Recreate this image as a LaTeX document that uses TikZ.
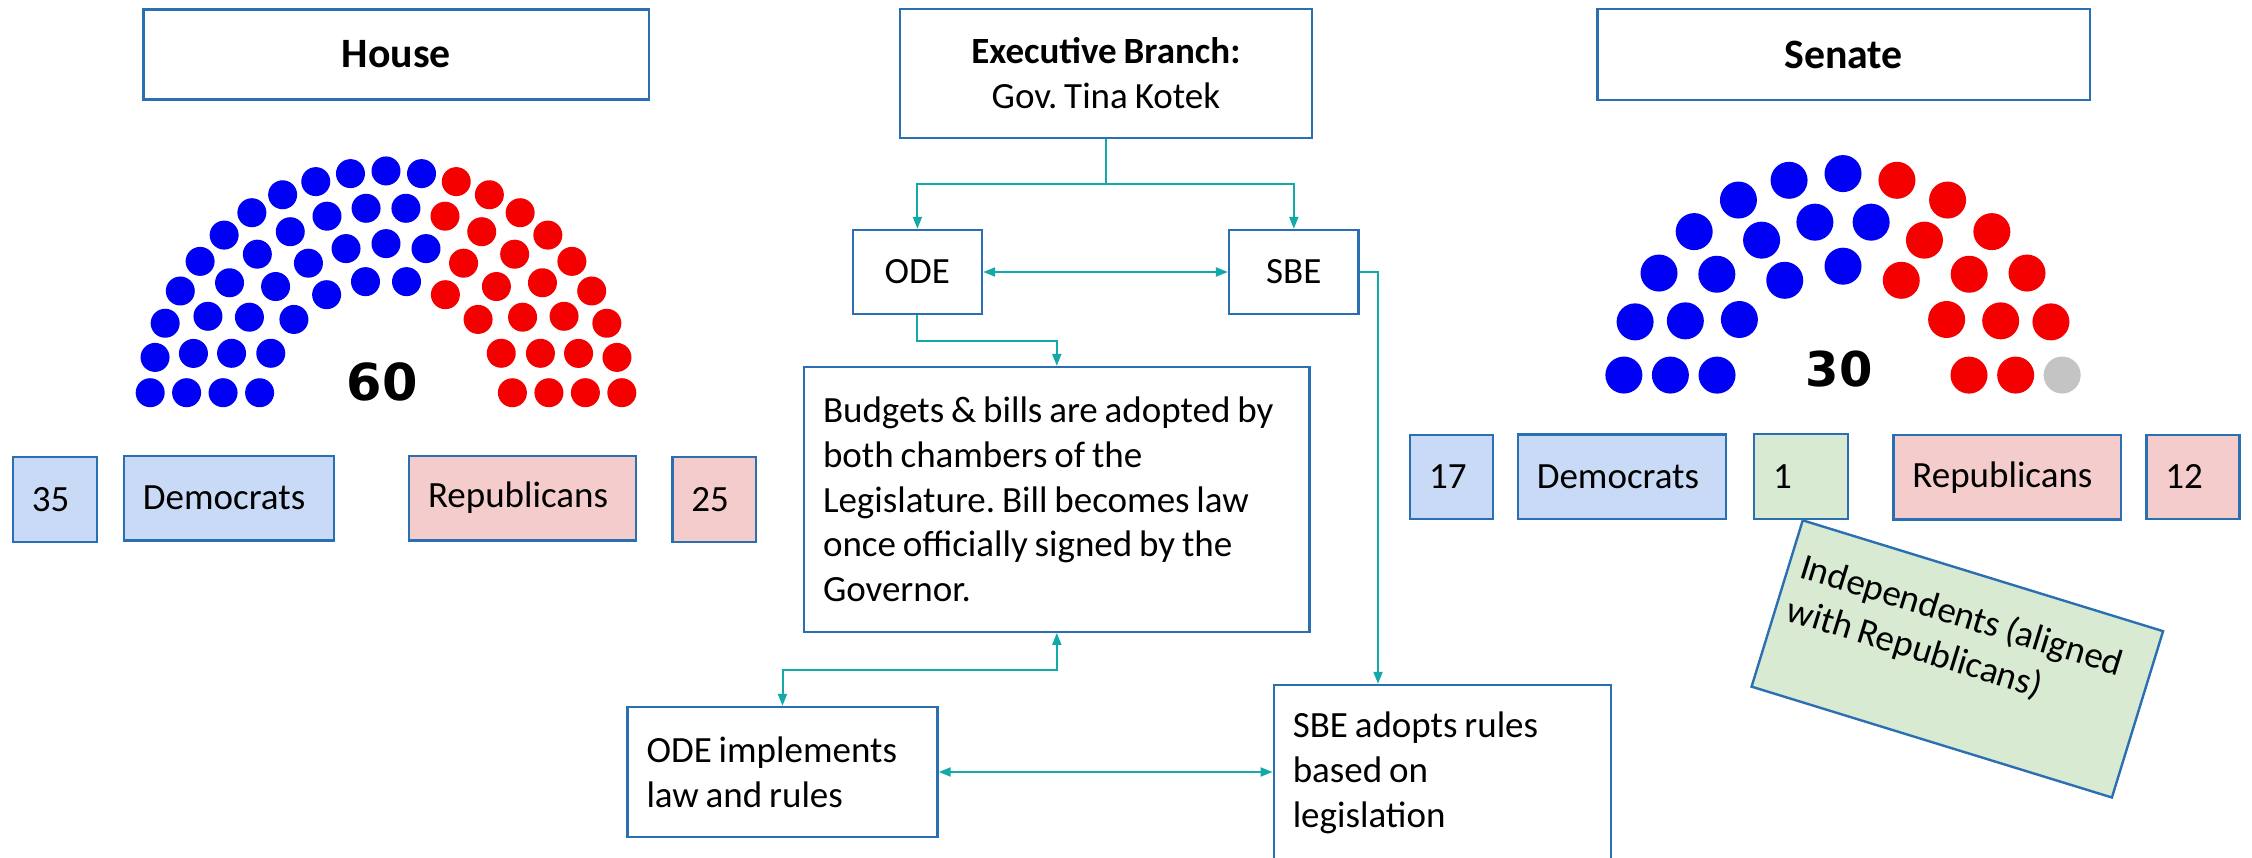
\documentclass[tikz,border=0pt]{standalone}
\usepackage{fontspec}
\setmainfont{Carlito}[WordSpace=0.82]
\newfontfamily\numfont{DejaVu Sans}
\usetikzlibrary{arrows.meta,calc}
\definecolor{bord}{HTML}{2A6FB2}
\definecolor{conncol}{HTML}{14A9A9}
\definecolor{fblue}{HTML}{C9DAF6}
\definecolor{fred}{HTML}{F4CCCC}
\definecolor{fgreen}{HTML}{D9EAD3}
\definecolor{dotblue}{HTML}{0000F5}
\definecolor{dotred}{HTML}{F50000}
\definecolor{dotgray}{HTML}{C4C4C4}
\frenchspacing
\begin{document}
\begin{tikzpicture}[x=0.5pt,y=-0.5pt,
  txt/.style={font=\fontsize{18.5}{22.4}\selectfont},
  box/.style={draw=bord,line width=1.2pt,fill=white,inner sep=0pt,txt},
  sz/.style 2 args={minimum width=#1*0.5pt,minimum height=#2*0.5pt},
  lbox/.style 2 args={box,align=flush left,inner xsep=9.5pt,text width=(#1-38)*0.5pt,minimum height=#2*0.5pt},
  cbox/.style 2 args={box,align=center,sz={#1}{#2}},
  titlebox/.style 2 args={cbox={#1}{#2},font=\fontsize{20.9}{25}\selectfont\bfseries},
  conn/.style={draw=conncol,line width=1pt,arrows={-Triangle[length=6pt,width=4.5pt]}},
  conn2/.style={draw=conncol,line width=1pt,arrows={Triangle[length=6pt,width=4.5pt]-Triangle[length=6pt,width=4.5pt]}},
  num/.style={font=\numfont\bfseries\fontsize{#1}{#1}\selectfont,anchor=base,inner sep=0pt}
]
\useasboundingbox (0,0) rectangle (2252,857);
\fill[white] (0,0) rectangle (2252,857);

% title boxes
\node[titlebox={505.5}{90}] (house) at (396.3,54.3) {House};
\node[titlebox={492.5}{91}] (senate) at (1843.7,54.5) {Senate};
\node[cbox={412.3}{129}] (exec) at (1105.9,73.5) {\textbf{Executive Branch:}\\Gov. Tina Kotek};

% executive flow
\node[cbox={129.2}{84}] (ode) at (917.4,272) {ODE};
\node[cbox={129.4}{84}] (sbe) at (1293.8,272) {SBE};
\node[lbox={505.6}{264.7}] (budget) at (1056.8,499.4) {Budgets \& bills are adopted by\\both chambers of the\\Legislature. Bill becomes law\\once officially signed by the\\Governor.};
\node[lbox={310}{130}] (odeimp) at (782.5,772) {ODE implements\\law and rules};
\node[lbox={337.3}{176}] (sbeadopt) at (1442.4,773) {SBE adopts rules\\based on\\legislation};

\coordinate (ej) at (1105.9,184);
\draw[conn] (exec.south) -- (ej) -| (ode.north);
\draw[conn] (ej) -| (sbe.north);
\draw[conn2] (ode.east) -- (sbe.west);
\draw[conn] (ode.south) -- ++(0,26) -| (budget.north);
\coordinate (sbex) at (1378,272);
\draw[conn] (sbe.east) -- (sbex) -- (sbex |- sbeadopt.north);
\draw[conn2] (budget.south) -- ++(0,37) -| (odeimp.north);
\draw[conn2] (odeimp.east) -- (odeimp.east -| sbeadopt.west);

% house counts
\node[lbox={84.2}{85},fill=fblue] (hd) at (55,499.5) {35};
\node[lbox={210}{84.6},fill=fblue] (hdem) at (228.9,498) {Democrats};
\node[lbox={227}{84.6},fill=fred] (hrep) at (522.5,498) {Republicans};
\node[lbox={83.7}{85},fill=fred] (hr) at (714.2,499.2) {25};

% senate counts
\node[lbox={82.8}{84},fill=fblue] (sd) at (1451.4,477) {17};
\node[lbox={208.5}{84.4},fill=fblue] (sdem) at (1622,476.5) {Democrats};
\node[lbox={93.7}{84.7},fill=fgreen] (si) at (1800.9,476.4) {1};
\node[lbox={227.7}{84.3},fill=fred] (srep) at (2007.2,477.2) {Republicans};
\node[lbox={93.1}{84},fill=fred] (sr) at (2193,476.7) {12};

% independents note
\node[box,fill=fgreen,sz={377}{174},rotate=-17.1] (ind) at (1957.3,658.9) {};
\node[txt,rotate=-17.1,anchor=north west,align=flush left,inner sep=0pt] (indtxt) at ($(ind.north west)+(3.8,32)$) {Independents (aligned\\with Republicans)};

% House hemicycle
\foreach \R/\J in {0.875/10,1.125/13,1.375/16,1.625/21}{
  \pgfmathsetmacro{\s}{deg(sin(deg(0.1/\R)))}
  \pgfmathsetmacro{\st}{(180-2*\s)/(\J-1)}
  \pgfmathtruncatemacro{\Jm}{\J-1}
  \foreach \j in {0,...,\Jm}{
    \pgfmathsetmacro{\a}{\s+\j*\st}
    \ifdim\a pt>74pt \def\col{dotblue}\else\def\col{dotred}\fi
    \fill[\col] ({386+\R*145.4*cos(\a)},{407.2-\R*145.4*sin(\a)}) circle[radius=7.25pt];
  }
}
\node[num=25.5] (hnum) at (382,400) {60};

% Senate hemicycle
\foreach \R/\J in {0.916667/7,1.25/10,1.583333/13}{
  \pgfmathsetmacro{\s}{deg(sin(deg(0.133333/\R)))}
  \pgfmathsetmacro{\st}{(180-2*\s)/(\J-1)}
  \pgfmathtruncatemacro{\Jm}{\J-1}
  \foreach \j in {0,...,\Jm}{
    \pgfmathsetmacro{\a}{\s+\j*\st}
    \ifdim\a pt>78pt \def\col{dotblue}\else
      \ifdim\a pt<5.5pt \def\col{dotgray}\else\def\col{dotred}\fi\fi
    \fill[\col] ({1843+\R*138.9*cos(\a)},{393.5-\R*138.9*sin(\a)}) circle[radius=9.25pt];
  }
}
\node[num=24] (snum) at (1839,386.6) {30};
\end{tikzpicture}
\end{document}
